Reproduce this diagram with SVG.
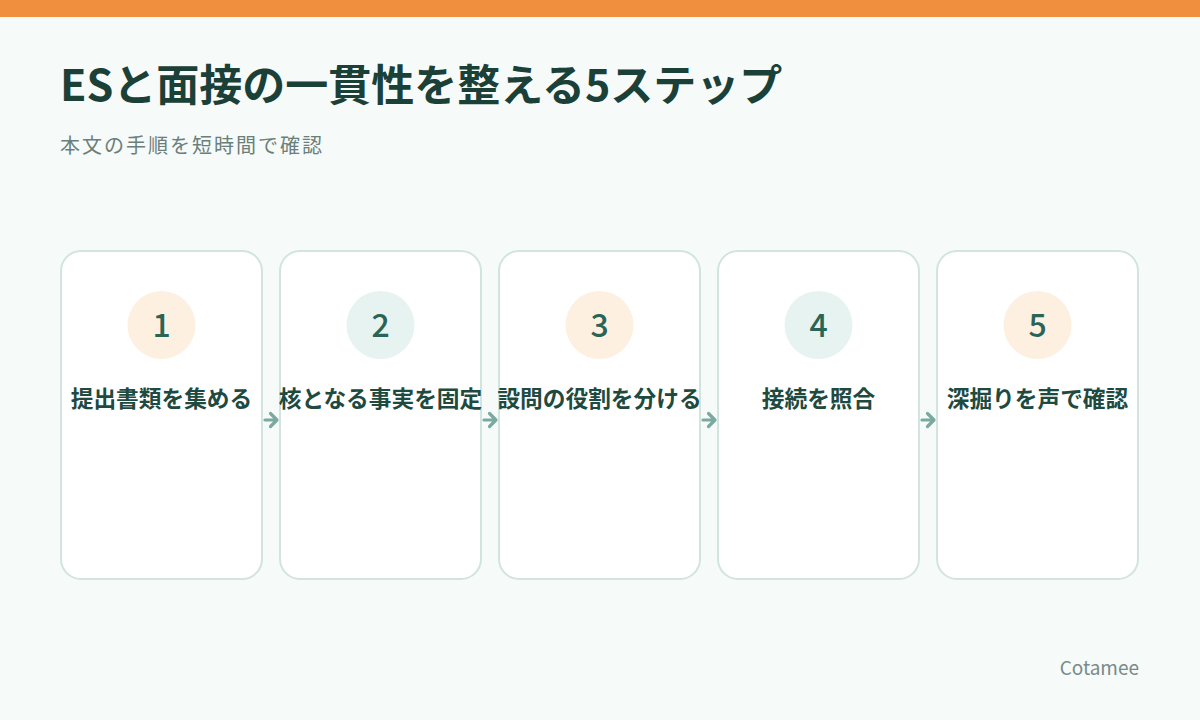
<svg xmlns="http://www.w3.org/2000/svg" width="1200" height="720" viewBox="0 0 1200 720">
<style>
.bg{fill:#f6faf9}
.bar{fill:#f08f3e}
.title{font-family:"Noto Sans CJK JP","Noto Sans",sans-serif;font-weight:700;font-size:43px;fill:#1b4038}
.sub{font-family:"Noto Sans CJK JP","Noto Sans",sans-serif;font-weight:400;font-size:20px;letter-spacing:2px;fill:#6b7f7a}
.card{fill:#ffffff;stroke:#d2e4df;stroke-width:2}
.peach{fill:#fdf0e1}
.mint{fill:#e6f3f0}
.num{font-family:"Noto Sans CJK JP","Noto Sans",sans-serif;font-weight:500;font-size:32px;fill:#2a6456;text-anchor:middle}
.lbl{font-family:"Noto Sans CJK JP","Noto Sans",sans-serif;font-weight:700;font-size:22.7px;fill:#1e4a40;text-anchor:middle}
.arrow{fill:none;stroke:#7aaa9f;stroke-width:3.2;stroke-linecap:round;stroke-linejoin:round}
.brand{font-family:"Noto Sans CJK JP","Noto Sans",sans-serif;font-size:19px;fill:#7a8a87;text-anchor:end}
</style>
<rect class="bg" x="0" y="0" width="1200" height="720"/>
<rect class="bar" x="0" y="0" width="1200" height="17"/>
<text class="title" x="60" y="101">ESと面接の一貫性を整える5ステップ</text>
<text class="sub" x="60" y="153">本文の手順を短時間で確認</text>
<g id="node1">
<rect class="card" x="61" y="251" width="201" height="328" rx="20"/>
<circle class="peach" cx="161.5" cy="325" r="34"/>
<text class="num" x="161.5" y="337">1</text>
<text class="lbl" x="161.5" y="407">提出書類を集める</text>
</g>
<g id="node2">
<rect class="card" x="280" y="251" width="201" height="328" rx="20"/>
<circle class="mint" cx="380.5" cy="325" r="34"/>
<text class="num" x="380.5" y="337">2</text>
<text class="lbl" x="380.5" y="407">核となる事実を固定</text>
</g>
<g id="node3">
<rect class="card" x="499" y="251" width="201" height="328" rx="20"/>
<circle class="peach" cx="599.5" cy="325" r="34"/>
<text class="num" x="599.5" y="337">3</text>
<text class="lbl" x="599.5" y="407">設問の役割を分ける</text>
</g>
<g id="node4">
<rect class="card" x="718" y="251" width="201" height="328" rx="20"/>
<circle class="mint" cx="818.5" cy="325" r="34"/>
<text class="num" x="818.5" y="337">4</text>
<text class="lbl" x="818.5" y="407">接続を照合</text>
</g>
<g id="node5">
<rect class="card" x="937" y="251" width="201" height="328" rx="20"/>
<circle class="peach" cx="1037.5" cy="325" r="34"/>
<text class="num" x="1037.5" y="337">5</text>
<text class="lbl" x="1037.5" y="407">深掘りを声で確認</text>
</g>
<g id="connectors">
<path class="arrow" d="M265 420H277M270.5 413.5L277 420L270.5 426.5"/>
<path class="arrow" d="M484 420H496M489.5 413.5L496 420L489.5 426.5"/>
<path class="arrow" d="M703 420H715M708.5 413.5L715 420L708.5 426.5"/>
<path class="arrow" d="M922 420H934M927.5 413.5L934 420L927.5 426.5"/>
</g>
<text class="brand" x="1139" y="675">Cotamee</text>
</svg>
